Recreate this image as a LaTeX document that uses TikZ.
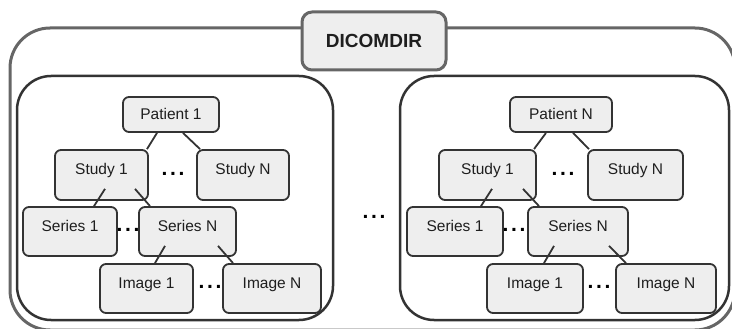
\documentclass[tikz,border=0pt]{standalone}
\usepackage{fontspec}
\setmainfont{Liberation Sans}
\usetikzlibrary{calc}
\definecolor{framegray}{HTML}{666666}
\definecolor{linedark}{HTML}{333333}
\definecolor{boxfill}{HTML}{EEEEEE}
\definecolor{inkdark}{HTML}{1E1E1E}
\newcommand{\tripledot}{\textbf{.\kern2.6pt.\kern2.6pt.}}
\begin{document}
\begin{tikzpicture}[x=1pt,y=-1pt,
  outerframe/.style={draw=framegray, line width=3pt, rounded corners=40pt,
    rectangle, inner sep=0pt},
  panelbox/.style={draw=linedark, line width=2.5pt, rounded corners=34pt,
    rectangle, inner sep=0pt},
  titlebox/.style={draw=framegray, line width=3pt, fill=boxfill,
    rounded corners=10pt, rectangle, inner sep=0pt,
    minimum width=144pt, minimum height=58pt,
    font=\fontsize{19}{22}\selectfont\bfseries, text=inkdark},
  entry/.style={draw=linedark, line width=1.8pt, fill=boxfill,
    rounded corners=6pt, rectangle, inner sep=0pt,
    minimum height=49pt, text height=11pt, text depth=12pt,
    font=\fontsize{15.5}{18}\selectfont, text=inkdark},
  rootentry/.style={entry, minimum height=35pt, text depth=0pt},
  link/.style={draw=linedark, line width=1.8pt},
  gap/.style={inner sep=0pt, font=\fontsize{21}{24}\selectfont, text=black}
]
\useasboundingbox (0,0) rectangle (732,329);
\clip (0,0) rectangle (732,329);

% outer DICOMDIR frame and its title
\node[outerframe, minimum width=725pt, minimum height=302pt] (frame) at (372.5,179) {};
\node[titlebox] (dicomdir) at (374,41) {DICOMDIR};

% the two patient panels
\node[panelbox, minimum width=316pt, minimum height=244pt] (panelA) at (175,198) {};
\node[panelbox, minimum width=329pt, minimum height=244pt] (panelB) at (564.5,198) {};

% ---- first patient ----
\node[rootentry, minimum width=96pt] (pa) at (171,114.5) {Patient 1};
\node[entry, minimum width=93pt, minimum height=50pt] (pa-st1) at (101.5,175) {Study 1};
\node[entry, minimum width=92pt, minimum height=50pt] (pa-stn) at (243,175) {Study N};
\node[entry, minimum width=94pt] (pa-se1) at (70,231.5) {Series 1};
\node[entry, minimum width=97pt] (pa-sen) at (187.5,231.5) {Series N};
\node[entry, minimum width=93pt] (pa-im1) at (146.5,288.5) {Image 1};
\node[entry, minimum width=98pt] (pa-imn) at (272,288.5) {Image N};

\draw[link] ([xshift=-14pt]pa.south) -- ([xshift=45.5pt]pa-st1.north);
\draw[link] ([xshift=12pt]pa.south) -- ([xshift=-43pt]pa-stn.north);
\draw[link] ([xshift=3.5pt,yshift=12pt]pa-st1.south) -- ([xshift=24pt]pa-se1.north);
\draw[link] ([xshift=33.5pt,yshift=12pt]pa-st1.south) -- ([xshift=-37.5pt]pa-sen.north);
\draw[link] ([xshift=-22.5pt,yshift=11pt]pa-sen.south) -- ([xshift=8.5pt]pa-im1.north);
\draw[link] ([xshift=30.5pt,yshift=11pt]pa-sen.south) -- ([xshift=-39pt]pa-imn.north);

\node[gap] (pa-dst) at (173,174) {\tripledot};
\node[gap] (pa-dse) at (128,230) {\tripledot};
\node[gap] (pa-dim) at (210,287) {\tripledot};

% ---- gap between patients ----
\node[gap] (pdots) at (374,217) {\tripledot};

% ---- last patient ----
\node[rootentry, minimum width=102pt] (pn) at (561,114.5) {Patient N};
\node[entry, minimum width=97pt, minimum height=50pt] (pn-st1) at (487.5,175) {Study 1};
\node[entry, minimum width=95pt, minimum height=50pt] (pn-stn) at (635.5,175) {Study N};
\node[entry, minimum width=96pt] (pn-se1) at (455,231.5) {Series 1};
\node[entry, minimum width=100pt] (pn-sen) at (578,231.5) {Series N};
\node[entry, minimum width=96pt] (pn-im1) at (535,288.5) {Image 1};
\node[entry, minimum width=100pt] (pn-imn) at (666,288.5) {Image N};

\draw[link] ([xshift=-15pt]pn.south) -- ([xshift=46.5pt]pn-st1.north);
\draw[link] ([xshift=12pt]pn.south) -- ([xshift=-46.5pt]pn-stn.north);
\draw[link] ([xshift=4.5pt,yshift=12pt]pn-st1.south) -- ([xshift=26pt]pn-se1.north);
\draw[link] ([xshift=35.5pt,yshift=12pt]pn-st1.south) -- ([xshift=-39pt]pn-sen.north);
\draw[link] ([xshift=-24pt,yshift=11pt]pn-sen.south) -- ([xshift=9pt]pn-im1.north);
\draw[link] ([xshift=31pt,yshift=11pt]pn-sen.south) -- ([xshift=-40pt]pn-imn.north);

\node[gap] (pn-dst) at (563,174) {\tripledot};
\node[gap] (pn-dse) at (514,230) {\tripledot};
\node[gap] (pn-dim) at (599,287) {\tripledot};
\end{tikzpicture}
\end{document}
